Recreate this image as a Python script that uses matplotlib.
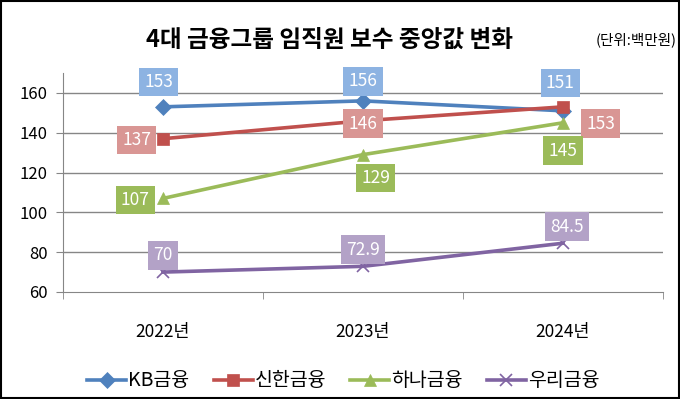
import matplotlib
matplotlib.use("Agg")
import matplotlib.pyplot as plt
from matplotlib.patches import Rectangle

plt.rcParams['font.family'] = ['Noto Sans CJK KR', 'DejaVu Sans']

years = ['2022년', '2023년', '2024년']
kb = [153, 156, 151]
shinhan = [137, 146, 153]
hana = [107, 129, 145]
woori = [70, 72.9, 84.5]
kb_labels = ['153', '156', '151']
shinhan_labels = ['137', '146', '153']
hana_labels = ['107', '129', '145']
woori_labels = ['70', '72.9', '84.5']
names = ['KB금융', '신한금융', '하나금융', '우리금융']

series = [
    (kb, kb_labels, '#4F81BD', 'D', '#8DB3E2', [(-3, 18), (0, 14), (-2, 20)]),
    (shinhan, shinhan_labels, '#C0504D', 's', '#D99694', [(-19, -1), (0, -2), (27, -12)]),
    (hana, hana_labels, '#9BBB59', '^', '#9BBB59', [(-20, -1), (9, -17), (0, -20)]),
    (woori, woori_labels, '#8064A2', 'x', '#B3A2C7', [(0, 12), (0, 12), (3, 12)]),
]

fig = plt.figure(figsize=(6.8, 3.99), dpi=100)
ax = fig.add_axes([63/680, 1-292/399, 600/680, 219/399])

x = list(range(len(years)))
handles = []
for (vals, labs, col, mk, lcol, offs), nm in zip(series, names):
    h, = ax.plot(x, vals, color=col, lw=2.6, marker=mk, ms=8, mew=1.2 if mk == 'x' else 0.5,
                 mec=col, mfc=col, label=nm, zorder=3)
    handles.append(h)
    for xi, v, t, (dx, dy) in zip(x, vals, labs, offs):
        ax.annotate(t, (xi, v), xytext=(dx, dy), textcoords='offset points',
                    ha='center', va='center', color='white', fontsize=12.5,
                    bbox=dict(boxstyle='square,pad=0.3', fc=lcol, ec='none'), zorder=5)

ax.set_xlim(-0.5, 2.5)
ax.set_ylim(60, 170)
ax.set_yticks([60, 80, 100, 120, 140, 160])
ax.tick_params(axis='y', labelsize=12, length=5, color='#868686', pad=6)
ax.set_xticks(x)
ax.set_xticklabels(years)
ax.tick_params(axis='x', length=0, labelsize=12.5, pad=22)
ax.set_xticks([-0.5, 0.5, 1.5, 2.5], minor=True)
ax.tick_params(axis='x', which='minor', length=5, color='#868686')
for sp in ['top', 'right']:
    ax.spines[sp].set_visible(False)
ax.spines['left'].set_color('#868686')
ax.spines['bottom'].set_color('#868686')
for yv in [80, 100, 120, 140, 160]:
    ax.axhline(yv, color='#868686', lw=1, zorder=1)

fig.text(0.485, 1-40/399, '4대 금융그룹 임직원 보수 중앙값 변화', ha='center', va='center',
         fontsize=17, fontweight='bold')
fig.text(0.995, 1-40/399, '(단위:백만원)', ha='right', va='center', fontsize=10.5)

fig.legend(handles=handles, loc='center', bbox_to_anchor=(0.505, 1-381/399), ncol=4,
           frameon=False, fontsize=14, handlelength=2.0, columnspacing=1.25, handletextpad=0.1)

fig.add_artist(Rectangle((0.0015, 0.0025), 0.997, 0.995, transform=fig.transFigure,
                         fill=False, ec='black', lw=1.5))

fig.savefig('out.png', dpi=100)
